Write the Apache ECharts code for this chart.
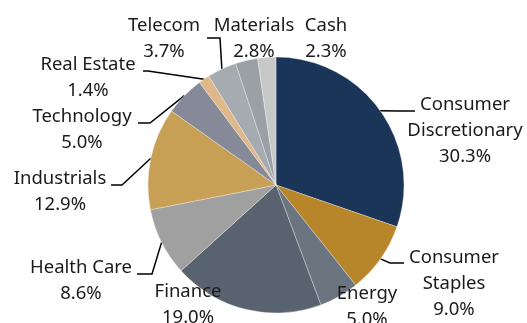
<!DOCTYPE html>
<html>
<head>
<meta charset="utf-8">
<script src="https://cdn.jsdelivr.net/npm/echarts@6/dist/echarts.min.js"></script>
<style>
  html, body { margin: 0; padding: 0; background: #fff; }
  #chart { width: 527px; height: 323px; }
</style>
</head>
<body>
<div id="chart"></div>
<script>
// Sector weights, clockwise from 12 o'clock
const sectors = ['Consumer Discretionary', 'Consumer Staples', 'Energy', 'Finance', 'Health Care',
  'Industrials', 'Technology', 'Real Estate', 'Telecom', 'Materials', 'Cash'];
const weights = [30.3, 9.0, 5.0, 19.0, 8.6, 12.9, 5.0, 1.4, 3.7, 2.8, 2.3];
const colors = ['#1a3558', '#b8862a', '#6b7580', '#58636f', '#a0a0a0', '#c79f55',
  '#868a98', '#dfb889', '#a6abb2', '#9aa0a6', '#c8c8c8'];

// Label placement: text block centre, and optional leader elbow / end point
const labelSpots = [
  { x: 465, y: 131, line: [[398, 111], [415, 111]] },
  { x: 454, y: 284, line: [[390, 263], [404, 263]] },
  { x: 367, y: 307, line: null },
  { x: 188, y: 305, line: null },
  { x: 81,  y: 281, line: [[152, 274], [137, 274]] },
  { x: 60,  y: 192, line: [[122, 185], [111, 185]] },
  { x: 82,  y: 130, line: [[150, 123], [138, 123]] },
  { x: 88,  y: 78,  line: [[148, 71], [143, 71]] },
  { x: 164, y: 39,  line: [[220, 38], [207, 38]] },
  { x: 254, y: 39,  line: null },
  { x: 326, y: 39,  line: null }
];

const chart = echarts.init(document.getElementById('chart'), null, { renderer: 'canvas' });

const data = sectors.map((name, i) => ({
  name: name,
  value: weights[i],
  itemStyle: { color: colors[i] },
  labelLine: { show: !!labelSpots[i].line }
}));

chart.setOption({
  animation: false,
  series: [{
    type: 'pie',
    center: [276, 185],
    radius: [0, 128],
    startAngle: 90,
    clockwise: true,
    avoidLabelOverlap: false,
    itemStyle: { borderColor: 'rgba(255,255,255,0.6)', borderWidth: 0.5 },
    label: {
      show: true,
      position: 'outside',
      formatter: p => p.name.replace('Consumer ', 'Consumer\n') + '\n' + p.value.toFixed(1) + '%',
      fontFamily: 'Noto Sans',
      fontSize: 18.5,
      lineHeight: 26,
      color: '#1a1a1a',
      align: 'center'
    },
    labelLine: {
      show: true,
      lineStyle: { color: '#000', width: 1.5 }
    },
    labelLayout: function (params) {
      const spot = labelSpots[params.dataIndex];
      const out = { x: spot.x, y: spot.y, align: 'center', verticalAlign: 'middle', hideOverlap: false, moveOverlap: false };
      if (spot.line && params.labelLinePoints) {
        out.labelLinePoints = [params.labelLinePoints[0], spot.line[0], spot.line[1]];
      }
      return out;
    },
    data: data
  }]
});
</script>
</body>
</html>
